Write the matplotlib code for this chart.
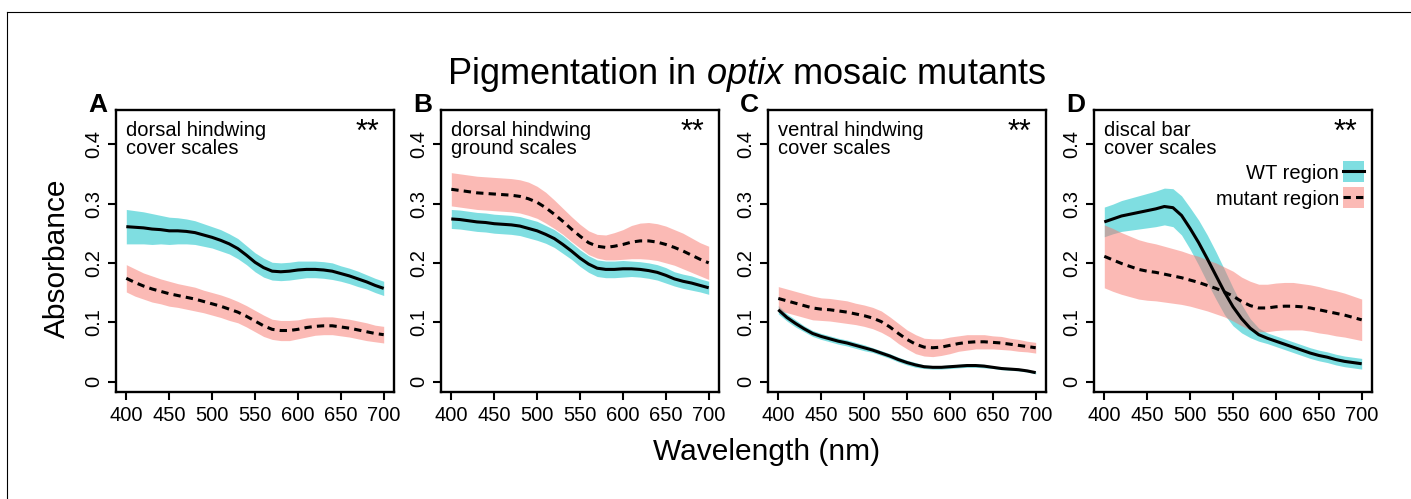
import numpy as np
import matplotlib.pyplot as plt
from matplotlib.lines import Line2D
from matplotlib.patches import Rectangle

plt.rcParams['font.family'] = ['Liberation Sans', 'DejaVu Sans']
plt.rcParams['mathtext.fontset'] = 'custom'
plt.rcParams['mathtext.rm'] = 'Liberation Sans'
plt.rcParams['mathtext.it'] = 'Liberation Sans:italic'

wavelength = [400, 410, 420, 430, 440, 450, 460, 470, 480, 490, 500,
              510, 520, 530, 540, 550, 560, 570, 580, 590, 600,
              610, 620, 630, 640, 650, 660, 670, 680, 690, 700]

panel_letters = ['A', 'B', 'C', 'D']
panel_labels = [('dorsal hindwing', 'cover scales'),
                ('dorsal hindwing', 'ground scales'),
                ('ventral hindwing', 'cover scales'),
                ('discal bar', 'cover scales')]

# A - dorsal hindwing cover scales
wt_A = [0.261, 0.260, 0.259, 0.257, 0.256, 0.254, 0.254, 0.253, 0.251, 0.247, 0.243,
        0.238, 0.232, 0.224, 0.213, 0.201, 0.192, 0.186, 0.185, 0.186, 0.188,
        0.189, 0.189, 0.188, 0.186, 0.182, 0.178, 0.173, 0.168, 0.162, 0.157]
wt_A_err = [0.029, 0.028, 0.027, 0.026, 0.024, 0.023, 0.022, 0.021, 0.020, 0.019, 0.018,
            0.018, 0.017, 0.017, 0.016, 0.016, 0.016, 0.015, 0.015, 0.015, 0.015,
            0.014, 0.014, 0.014, 0.014, 0.013, 0.013, 0.013, 0.012, 0.012, 0.012]
mut_A = [0.174, 0.167, 0.161, 0.156, 0.152, 0.148, 0.145, 0.142, 0.139, 0.135, 0.131,
         0.127, 0.122, 0.117, 0.110, 0.102, 0.094, 0.088, 0.086, 0.086, 0.088,
         0.091, 0.093, 0.094, 0.094, 0.092, 0.090, 0.087, 0.084, 0.081, 0.079]
mut_A_err = [0.023, 0.023, 0.022, 0.022, 0.021, 0.021, 0.020, 0.020, 0.020, 0.019, 0.019,
             0.019, 0.019, 0.018, 0.018, 0.018, 0.018, 0.017, 0.017, 0.017, 0.016,
             0.016, 0.015, 0.015, 0.015, 0.015, 0.015, 0.015, 0.015, 0.014, 0.014]

# B - dorsal hindwing ground scales
wt_B = [0.274, 0.273, 0.271, 0.269, 0.268, 0.266, 0.265, 0.264, 0.262, 0.258, 0.254,
        0.248, 0.241, 0.231, 0.220, 0.208, 0.198, 0.191, 0.189, 0.189, 0.190,
        0.190, 0.189, 0.187, 0.184, 0.179, 0.173, 0.169, 0.166, 0.162, 0.158]
wt_B_err = [0.016, 0.016, 0.016, 0.016, 0.016, 0.016, 0.016, 0.016, 0.016, 0.016, 0.016,
            0.015, 0.015, 0.015, 0.014, 0.014, 0.014, 0.014, 0.014, 0.014, 0.014,
            0.013, 0.013, 0.013, 0.013, 0.013, 0.012, 0.012, 0.012, 0.011, 0.011]
mut_B = [0.324, 0.322, 0.320, 0.318, 0.317, 0.316, 0.315, 0.314, 0.312, 0.308, 0.302,
         0.293, 0.282, 0.270, 0.257, 0.245, 0.234, 0.228, 0.226, 0.228, 0.231,
         0.235, 0.237, 0.237, 0.235, 0.231, 0.226, 0.220, 0.213, 0.206, 0.200]
mut_B_err = [0.028, 0.028, 0.028, 0.028, 0.028, 0.028, 0.028, 0.028, 0.028, 0.028, 0.027,
             0.026, 0.024, 0.022, 0.021, 0.020, 0.020, 0.020, 0.021, 0.023, 0.025,
             0.028, 0.030, 0.031, 0.031, 0.031, 0.030, 0.030, 0.029, 0.028, 0.028]

# C - ventral hindwing cover scales
wt_C = [0.121, 0.108, 0.098, 0.089, 0.081, 0.076, 0.072, 0.068, 0.065, 0.061, 0.057,
        0.053, 0.048, 0.043, 0.037, 0.032, 0.028, 0.025, 0.024, 0.024, 0.025,
        0.026, 0.027, 0.027, 0.026, 0.024, 0.022, 0.021, 0.020, 0.018, 0.015]
wt_C_err = [0.007, 0.006, 0.006, 0.005, 0.005, 0.005, 0.005, 0.005, 0.005, 0.005, 0.005,
            0.004, 0.004, 0.004, 0.004, 0.004, 0.004, 0.003, 0.003, 0.003, 0.003,
            0.003, 0.003, 0.003, 0.003, 0.002, 0.002, 0.002, 0.002, 0.002, 0.002]
mut_C = [0.140, 0.136, 0.132, 0.128, 0.124, 0.122, 0.121, 0.119, 0.117, 0.114, 0.111,
         0.107, 0.101, 0.092, 0.081, 0.071, 0.063, 0.058, 0.057, 0.058, 0.061,
         0.064, 0.066, 0.067, 0.067, 0.066, 0.065, 0.063, 0.061, 0.059, 0.057]
mut_C_err = [0.020, 0.020, 0.020, 0.020, 0.020, 0.019, 0.019, 0.019, 0.019, 0.018, 0.018,
             0.018, 0.018, 0.017, 0.017, 0.016, 0.016, 0.015, 0.015, 0.014, 0.014,
             0.013, 0.013, 0.012, 0.012, 0.011, 0.011, 0.010, 0.010, 0.009, 0.009]

# D - discal bar cover scales
wt_D = [0.269, 0.274, 0.279, 0.282, 0.285, 0.288, 0.291, 0.295, 0.293, 0.280, 0.258,
        0.234, 0.207, 0.179, 0.151, 0.126, 0.106, 0.090, 0.079, 0.073, 0.068,
        0.063, 0.058, 0.053, 0.048, 0.044, 0.041, 0.037, 0.034, 0.032, 0.030]
wt_D_err = [0.025, 0.025, 0.026, 0.027, 0.028, 0.029, 0.030, 0.031, 0.032, 0.033, 0.035,
            0.038, 0.040, 0.040, 0.038, 0.032, 0.024, 0.016, 0.011, 0.009, 0.009,
            0.009, 0.009, 0.009, 0.009, 0.009, 0.009, 0.009, 0.009, 0.009, 0.009]
mut_D = [0.211, 0.205, 0.199, 0.194, 0.189, 0.186, 0.184, 0.181, 0.178, 0.175, 0.171,
         0.167, 0.162, 0.157, 0.151, 0.144, 0.135, 0.128, 0.124, 0.124, 0.126,
         0.127, 0.127, 0.126, 0.124, 0.121, 0.118, 0.115, 0.112, 0.108, 0.104]
mut_D_err = [0.053, 0.053, 0.052, 0.051, 0.050, 0.049, 0.048, 0.047, 0.046, 0.045, 0.044,
             0.044, 0.043, 0.043, 0.042, 0.042, 0.041, 0.041, 0.040, 0.040, 0.040,
             0.040, 0.040, 0.039, 0.039, 0.039, 0.038, 0.038, 0.037, 0.036, 0.035]

wt_all = [wt_A, wt_B, wt_C, wt_D]
wt_err_all = [wt_A_err, wt_B_err, wt_C_err, wt_D_err]
mut_all = [mut_A, mut_B, mut_C, mut_D]
mut_err_all = [mut_A_err, mut_B_err, mut_C_err, mut_D_err]

wt_col = '#00BFC4'
mut_col = '#F8766D'
dash = (0, (2.4, 1.7))

W, H = 1411, 499
fig = plt.figure(figsize=(W / 100, H / 100), dpi=100)

lefts = [116, 441, 768, 1094]
for i in range(4):
    ax = fig.add_axes([lefts[i] / W, (H - 392) / H, 278 / W, 282 / H])
    x = np.array(wavelength)
    wt = np.array(wt_all[i]); we = np.array(wt_err_all[i])
    mu = np.array(mut_all[i]); me = np.array(mut_err_all[i])

    ax.fill_between(x, wt - we, wt + we, color=wt_col, alpha=0.5, lw=0)
    ax.fill_between(x, mu - me, mu + me, color=mut_col, alpha=0.5, lw=0)
    ax.plot(x, wt, color='k', lw=2.2, solid_capstyle='butt')
    ax.plot(x, mu, color='k', lw=2.2, ls=dash)

    ax.set_xlim(388, 712)
    ax.set_ylim(-0.0176, 0.4576)
    ax.set_xticks([400, 450, 500, 550, 600, 650, 700])
    ax.set_yticks([0, 0.1, 0.2, 0.3, 0.4])
    ax.set_yticklabels(['0', '0.1', '0.2', '0.3', '0.4'])
    for s in ax.spines.values():
        s.set_linewidth(1.7)
    ax.tick_params(direction='out', length=6, width=1.5, labelsize=14.5)
    ax.tick_params(axis='x', pad=4)
    ax.tick_params(axis='y', pad=3, labelrotation=90)
    for lab in ax.get_yticklabels():
        lab.set_va('center')

    ax.text(-0.032, 0.993, panel_letters[i], transform=ax.transAxes, ha='right',
            va='baseline', fontsize=19, fontweight='bold')
    ax.text(0.036, 0.909, panel_labels[i][0], transform=ax.transAxes, fontsize=14.5, va='baseline')
    ax.text(0.036, 0.844, panel_labels[i][1], transform=ax.transAxes, fontsize=14.5, va='baseline')
    ax.text(0.946, 0.89, '**', transform=ax.transAxes, ha='right', va='baseline', fontsize=22)

    if i == 3:
        # legend drawn by hand like the original
        ax.add_patch(Rectangle((0.896, 0.745), 0.075, 0.074, transform=ax.transAxes,
                               color=wt_col, alpha=0.5, lw=0))
        ax.add_patch(Rectangle((0.896, 0.652), 0.075, 0.075, transform=ax.transAxes,
                               color=mut_col, alpha=0.5, lw=0))
        ax.add_line(Line2D([0.896, 0.971], [0.782, 0.782], transform=ax.transAxes, color='k', lw=2.2))
        ax.add_line(Line2D([0.896, 0.971], [0.690, 0.690], transform=ax.transAxes, color='k', lw=2.2, ls=dash))
        ax.text(0.881, 0.755, 'WT region', transform=ax.transAxes, ha='right', va='baseline', fontsize=14.5)
        ax.text(0.881, 0.663, 'mutant region', transform=ax.transAxes, ha='right', va='baseline', fontsize=14.5)

fig.text(0.529, 1 - 84 / H, r'Pigmentation in $\it{optix}$ mosaic mutants', ha='center',
         va='baseline', fontsize=26)
fig.text(0.0404, 0.483, 'Absorbance', rotation=90, ha='center', va='center', fontsize=21.5)
fig.text(0.543, 1 - 460 / H, 'Wavelength (nm)', ha='center', va='baseline', fontsize=21.5)

# thin frame on top and left edge
fig.add_artist(Line2D([6.5 / W, 1], [1 - 12 / H, 1 - 12 / H], transform=fig.transFigure, color='k', lw=0.8))
fig.add_artist(Line2D([6.5 / W, 6.5 / W], [0, 1 - 12 / H], transform=fig.transFigure, color='k', lw=0.8))

fig.savefig('out.png', dpi=100)
